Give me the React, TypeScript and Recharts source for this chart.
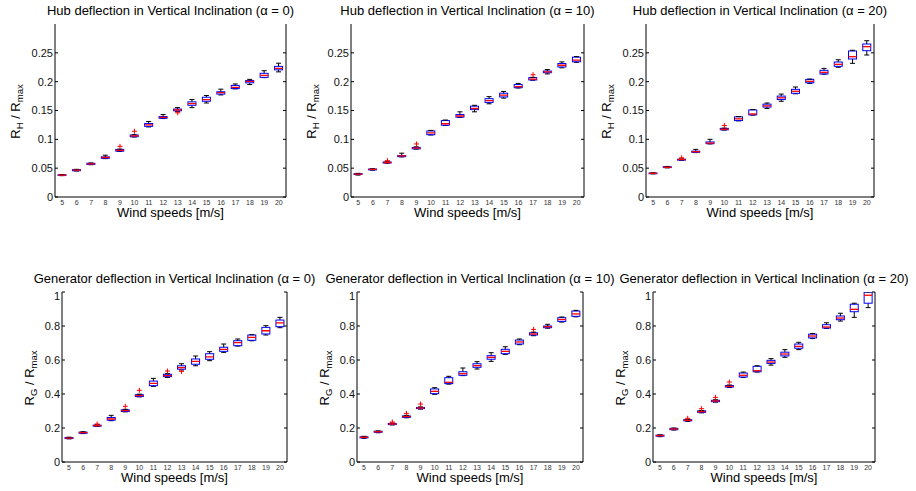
import React from 'react'
import { ComposedChart, Bar, Scatter, XAxis, YAxis } from 'recharts'

const FONT = '"Liberation Sans", Arial, Helvetica, sans-serif'

const speeds = [5, 6, 7, 8, 9, 10, 11, 12, 13, 14, 15, 16, 17, 18, 19, 20]

const hubTicks = [0, 0.05, 0.1, 0.15, 0.2, 0.25]
const genTicks = [0, 0.2, 0.4, 0.6, 0.8, 1]

// hub deflection, alpha = 0
const hub0Lo = [0.037, 0.045, 0.056, 0.0665, 0.079, 0.104, 0.1215, 0.136, 0.148, 0.155, 0.163, 0.177, 0.1875, 0.195, 0.207, 0.217]
const hub0Q1 = [0.0375, 0.0455, 0.0565, 0.067, 0.0795, 0.1045, 0.1225, 0.1365, 0.1495, 0.159, 0.166, 0.1785, 0.188, 0.198, 0.2075, 0.2205]
const hub0Med = [0.038, 0.0465, 0.0575, 0.0685, 0.081, 0.106, 0.125, 0.138, 0.151, 0.162, 0.169, 0.181, 0.19, 0.2005, 0.211, 0.223]
const hub0Q3 = [0.0385, 0.0475, 0.0585, 0.0695, 0.0825, 0.1075, 0.1275, 0.1395, 0.1525, 0.165, 0.173, 0.1825, 0.1935, 0.202, 0.2145, 0.2265]
const hub0Hi = [0.039, 0.048, 0.059, 0.0725, 0.083, 0.108, 0.131, 0.143, 0.155, 0.169, 0.176, 0.187, 0.196, 0.204, 0.219, 0.232]
const hub0Out: [number, number][] = [[9, 0.0878], [10, 0.114], [13, 0.146]]

// hub deflection, alpha = 10
const hub10Lo = [0.038, 0.0465, 0.0585, 0.0695, 0.083, 0.1075, 0.124, 0.138, 0.1477, 0.1616, 0.1715, 0.189, 0.2025, 0.2134, 0.224, 0.2335]
const hub10Q1 = [0.039, 0.047, 0.059, 0.07, 0.0835, 0.108, 0.1245, 0.1385, 0.1515, 0.164, 0.1735, 0.1895, 0.203, 0.2155, 0.2255, 0.2345]
const hub10Med = [0.0395, 0.0478, 0.0598, 0.0712, 0.0848, 0.1112, 0.127, 0.1405, 0.1535, 0.167, 0.1765, 0.1915, 0.2045, 0.217, 0.2285, 0.2375]
const hub10Q3 = [0.0405, 0.0485, 0.0607, 0.072, 0.086, 0.1145, 0.1325, 0.143, 0.1575, 0.1705, 0.18, 0.195, 0.207, 0.2185, 0.2315, 0.2425]
const hub10Hi = [0.041, 0.049, 0.061, 0.076, 0.087, 0.1155, 0.1335, 0.1477, 0.159, 0.174, 0.183, 0.197, 0.2075, 0.221, 0.2343, 0.2435]
const hub10Out: [number, number][] = [[7, 0.063], [9, 0.092], [17, 0.212]]

// hub deflection, alpha = 20
const hub20Lo = [0.04, 0.0505, 0.0635, 0.077, 0.092, 0.116, 0.132, 0.142, 0.1535, 0.166, 0.179, 0.197, 0.213, 0.225, 0.2318, 0.2462]
const hub20Q1 = [0.0405, 0.051, 0.064, 0.0775, 0.0925, 0.1165, 0.1325, 0.1424, 0.156, 0.169, 0.1798, 0.198, 0.2133, 0.2266, 0.2393, 0.2537]
const hub20Med = [0.041, 0.0515, 0.065, 0.0785, 0.0935, 0.1175, 0.1355, 0.144, 0.158, 0.172, 0.1833, 0.2006, 0.2162, 0.23, 0.2433, 0.2607]
const hub20Q3 = [0.0415, 0.0525, 0.0655, 0.0795, 0.0955, 0.119, 0.139, 0.151, 0.161, 0.175, 0.1867, 0.204, 0.2197, 0.2341, 0.2532, 0.2653]
const hub20Hi = [0.042, 0.053, 0.066, 0.0826, 0.1, 0.1195, 0.1395, 0.1515, 0.163, 0.1785, 0.1907, 0.2045, 0.223, 0.238, 0.2544, 0.271]
const hub20Out: [number, number][] = [[7, 0.068], [10, 0.124]]

// generator deflection, alpha = 0
const gen0Lo = [0.136, 0.167, 0.209, 0.243, 0.295, 0.383, 0.445, 0.497, 0.541, 0.566, 0.596, 0.645, 0.682, 0.713, 0.747, 0.79]
const gen0Q1 = [0.138, 0.169, 0.211, 0.246, 0.297, 0.385, 0.449, 0.502, 0.546, 0.575, 0.604, 0.651, 0.684, 0.716, 0.753, 0.796]
const gen0Med = [0.141, 0.1725, 0.214, 0.253, 0.302, 0.39, 0.4627, 0.508, 0.555, 0.592, 0.618, 0.663, 0.702, 0.733, 0.772, 0.818]
const gen0Q3 = [0.144, 0.176, 0.217, 0.262, 0.307, 0.396, 0.476, 0.516, 0.566, 0.606, 0.637, 0.675, 0.7137, 0.747, 0.792, 0.835]
const gen0Hi = [0.146, 0.178, 0.219, 0.2745, 0.31, 0.399, 0.492, 0.52, 0.578, 0.6235, 0.649, 0.694, 0.7235, 0.749, 0.802, 0.851]
const gen0Out: [number, number][] = [[7, 0.2235], [9, 0.3275], [10, 0.4216], [12, 0.535], [13, 0.533]]

// generator deflection, alpha = 10
const gen10Lo = [0.139, 0.172, 0.218, 0.26, 0.311, 0.398, 0.458, 0.508, 0.547, 0.592, 0.633, 0.69, 0.743, 0.787, 0.823, 0.854]
const gen10Q1 = [0.142, 0.175, 0.22, 0.2625, 0.314, 0.402, 0.461, 0.51, 0.557, 0.6045, 0.637, 0.694, 0.747, 0.79, 0.827, 0.857]
const gen10Med = [0.145, 0.178, 0.2235, 0.2667, 0.3176, 0.4157, 0.4686, 0.5196, 0.5667, 0.6157, 0.651, 0.706, 0.753, 0.796, 0.838, 0.871]
const gen10Q3 = [0.148, 0.181, 0.227, 0.271, 0.321, 0.43, 0.496, 0.531, 0.578, 0.6255, 0.663, 0.7175, 0.76, 0.8, 0.849, 0.888]
const gen10Hi = [0.151, 0.183, 0.229, 0.274, 0.324, 0.437, 0.504, 0.553, 0.59, 0.643, 0.678, 0.7235, 0.764, 0.81, 0.853, 0.892]
const gen10Out: [number, number][] = [[7, 0.235], [8, 0.286], [9, 0.341], [17, 0.78]]

// generator deflection, alpha = 20
const gen20Lo = [0.149, 0.188, 0.239, 0.289, 0.352, 0.438, 0.497, 0.529, 0.57, 0.6157, 0.661, 0.726, 0.786, 0.829, 0.851, 0.908]
const gen20Q1 = [0.152, 0.19, 0.242, 0.292, 0.355, 0.441, 0.5, 0.531, 0.58, 0.624, 0.669, 0.73, 0.788, 0.837, 0.884, 0.934]
const gen20Med = [0.155, 0.194, 0.245, 0.296, 0.359, 0.445, 0.51, 0.537, 0.588, 0.635, 0.68, 0.741, 0.794, 0.847, 0.898, 0.981]
const gen20Q3 = [0.158, 0.198, 0.249, 0.301, 0.363, 0.45, 0.5235, 0.563, 0.598, 0.646, 0.694, 0.752, 0.8076, 0.859, 0.928, 0.999]
const gen20Hi = [0.16, 0.2, 0.251, 0.303, 0.366, 0.453, 0.529, 0.566, 0.608, 0.661, 0.704, 0.756, 0.819, 0.875, 0.934, 1.0]
const gen20Out: [number, number][] = [[7, 0.257], [8, 0.3137], [9, 0.38], [10, 0.4706]]

interface PanelDef {
  title: string
  sub: string
  lo: number[]
  q1: number[]
  med: number[]
  q3: number[]
  hi: number[]
  out: [number, number][]
  ymax: number
  ticks: number[]
  // plot rectangle on the page: left, top, right, bottom
  rect: [number, number, number, number]
  labelGap: number
}

const panels: PanelDef[] = [
  { title: 'Hub deflection in Vertical Inclination (\u03b1 = 0)', sub: 'H', lo: hub0Lo, q1: hub0Q1, med: hub0Med, q3: hub0Q3, hi: hub0Hi, out: hub0Out, ymax: 0.3, ticks: hubTicks, rect: [55, 24, 286, 197], labelGap: 35.5 },
  { title: 'Hub deflection in Vertical Inclination (\u03b1 = 10)', sub: 'H', lo: hub10Lo, q1: hub10Q1, med: hub10Med, q3: hub10Q3, hi: hub10Hi, out: hub10Out, ymax: 0.3, ticks: hubTicks, rect: [351, 24, 584, 197], labelGap: 35.5 },
  { title: 'Hub deflection in Vertical Inclination (\u03b1 = 20)', sub: 'H', lo: hub20Lo, q1: hub20Q1, med: hub20Med, q3: hub20Q3, hi: hub20Hi, out: hub20Out, ymax: 0.3, ticks: hubTicks, rect: [646, 24, 874, 197], labelGap: 35.5 },
  { title: 'Generator deflection in Vertical Inclination (\u03b1 = 0)', sub: 'G', lo: gen0Lo, q1: gen0Q1, med: gen0Med, q3: gen0Q3, hi: gen0Hi, out: gen0Out, ymax: 1, ticks: genTicks, rect: [62, 292, 287, 462], labelGap: 28.5 },
  { title: 'Generator deflection in Vertical Inclination (\u03b1 = 10)', sub: 'G', lo: gen10Lo, q1: gen10Q1, med: gen10Med, q3: gen10Q3, hi: gen10Hi, out: gen10Out, ymax: 1, ticks: genTicks, rect: [357, 292, 583, 462], labelGap: 28.5 },
  { title: 'Generator deflection in Vertical Inclination (\u03b1 = 20)', sub: 'G', lo: gen20Lo, q1: gen20Q1, med: gen20Med, q3: gen20Q3, hi: gen20Hi, out: gen20Out, ymax: 1, ticks: genTicks, rect: [653, 292, 875, 462], labelGap: 28.5 },
]

function buildRows(p: PanelDef) {
  return speeds.map((ws, i) => {
    const o = p.out.find(([s]) => s === ws)
    return {
      ws,
      base: p.lo[i],
      wLow: p.q1[i] - p.lo[i],
      iqr: p.q3[i] - p.q1[i],
      wHigh: p.hi[i] - p.q3[i],
      med: p.med[i],
      out: o ? o[1] : null,
    }
  })
}

const Empty = () => <g />

const LowWhisker = (props: any) => {
  const { x, y, width, height } = props
  if (x == null || y == null) return <g />
  const cx = x + width / 2
  const yb = y + height
  return (
    <g>
      <line x1={cx} x2={cx} y1={y} y2={yb} stroke="#000" strokeWidth={1} />
      <line x1={cx - 2.5} x2={cx + 2.5} y1={yb} y2={yb} stroke="#000" strokeWidth={1} />
    </g>
  )
}

const HighWhisker = (props: any) => {
  const { x, y, width, height } = props
  if (x == null || y == null) return <g />
  const cx = x + width / 2
  return (
    <g>
      <line x1={cx} x2={cx} y1={y} y2={y + height} stroke="#000" strokeWidth={1} />
      <line x1={cx - 2.5} x2={cx + 2.5} y1={y} y2={y} stroke="#000" strokeWidth={1} />
    </g>
  )
}

const BoxRect = (props: any) => {
  const { x, y, width, height } = props
  if (x == null || y == null) return <g />
  return <rect x={x} y={y} width={width} height={Math.max(height, 0.6)} fill="none" stroke="#0000ff" strokeWidth={1} />
}

const MedianMark = (props: any) => {
  const { cx, cy } = props
  if (cx == null || cy == null || Number.isNaN(cy)) return <g />
  return <line x1={cx - 4} x2={cx + 4} y1={cy} y2={cy} stroke="#ff0000" strokeWidth={1.3} />
}

const OutlierMark = (props: any) => {
  const { cx, cy, payload } = props
  if (!payload || payload.out == null || cy == null || Number.isNaN(cy)) return <g />
  return (
    <g stroke="#ff0000" strokeWidth={1}>
      <line x1={cx - 2.5} x2={cx + 2.5} y1={cy} y2={cy} />
      <line x1={cx} x2={cx} y1={cy - 2.5} y2={cy + 2.5} />
    </g>
  )
}

const YW = 45

function Panel({ p }: { p: PanelDef }) {
  const [x0, y0, x1, y1] = p.rect
  const width = x1 - x0 + YW + 2
  const height = y1 - y0 + 2 + 14
  const rows = buildRows(p)
  const domain = [0, p.ymax]
  return (
    <div style={{ position: 'absolute', left: x0 - YW, top: y0 - 2 }}>
      <ComposedChart width={width} height={height} data={rows} margin={{ top: 2, right: 1, bottom: 0, left: 0 }}>
        <XAxis
          xAxisId="x"
          dataKey="ws"
          type="category"
          interval={0}
          height={14}
          tickLine={false}
          tickSize={0}
          tickMargin={3}
          axisLine={{ stroke: '#000', strokeWidth: 1 }}
          tick={{ fontSize: 7, fill: '#333', fontFamily: FONT }}
        />
        <XAxis
          xAxisId="top"
          orientation="top"
          dataKey="ws"
          type="category"
          height={0}
          tick={false}
          tickLine={false}
          axisLine={{ stroke: '#000', strokeWidth: 1 }}
        />
        <YAxis
          yAxisId="l"
          type="number"
          domain={domain}
          ticks={p.ticks}
          allowDataOverflow
          width={YW}
          tickSize={-3}
          tickMargin={5}
          tickLine={{ stroke: '#000' }}
          axisLine={{ stroke: '#000', strokeWidth: 1 }}
          tick={{ fontSize: 11, fill: '#111', fontFamily: FONT }}
        />
        <YAxis
          yAxisId="r"
          orientation="right"
          type="number"
          domain={domain}
          ticks={p.ticks}
          allowDataOverflow
          width={1}
          tickSize={-3}
          tickFormatter={() => ''}
          tickLine={{ stroke: '#000' }}
          axisLine={{ stroke: '#000', strokeWidth: 1 }}
        />
        <Bar xAxisId="x" yAxisId="l" stackId="b" dataKey="base" barSize={8} shape={Empty} isAnimationActive={false} />
        <Bar xAxisId="x" yAxisId="l" stackId="b" dataKey="wLow" barSize={8} shape={LowWhisker} isAnimationActive={false} />
        <Bar xAxisId="x" yAxisId="l" stackId="b" dataKey="iqr" barSize={8} shape={BoxRect} isAnimationActive={false} />
        <Bar xAxisId="x" yAxisId="l" stackId="b" dataKey="wHigh" barSize={8} shape={HighWhisker} isAnimationActive={false} />
        <Scatter xAxisId="x" yAxisId="l" dataKey="med" shape={MedianMark} isAnimationActive={false} />
        <Scatter xAxisId="x" yAxisId="l" dataKey="out" shape={OutlierMark} isAnimationActive={false} />
      </ComposedChart>
    </div>
  )
}

function Labels() {
  return (
    <svg
      width={916}
      height={491}
      style={{ position: 'absolute', left: 0, top: 0, pointerEvents: 'none' }}
      fontFamily={FONT}
    >
      {panels.map((p, i) => {
        const [x0, y0, x1, y1] = p.rect
        const cx = (x0 + x1) / 2
        const cy = (y0 + y1) / 2
        const bx = x0 - p.labelGap
        return (
          <g key={i}>
            <text x={cx} y={y0 - 9} textAnchor="middle" fontSize={13} fill="#000">
              {p.title}
            </text>
            <text x={cx} y={y1 + 20} textAnchor="middle" fontSize={13} fill="#000">
              Wind speeds [m/s]
            </text>
            <text x={bx} y={cy + 1} textAnchor="middle" fontSize={13} fill="#000" transform={`rotate(-90 ${bx} ${cy + 1})`}>
              R<tspan fontSize={9.5} dy={3}>{p.sub}</tspan>
              <tspan dy={-3}> / R</tspan>
              <tspan fontSize={9.5} dy={3}>max</tspan>
            </text>
          </g>
        )
      })}
    </svg>
  )
}

export default function App() {
  return (
    <div style={{ position: 'absolute', left: 0, top: 0, width: 916, height: 491, background: '#fff', fontFamily: FONT }}>
      {panels.map((p, i) => (
        <Panel key={i} p={p} />
      ))}
      <Labels />
    </div>
  )
}
